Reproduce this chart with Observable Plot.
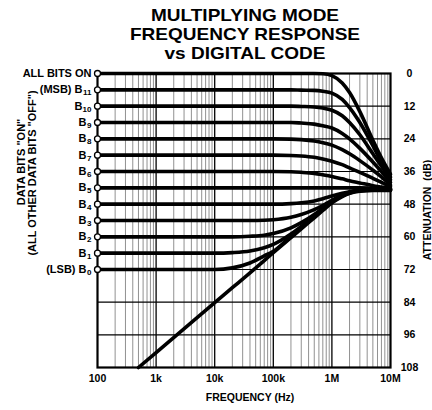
<!DOCTYPE html>
<html>
<head>
<meta charset="utf-8">
<script src="https://cdn.jsdelivr.net/npm/d3@7"></script>
<script src="https://cdn.jsdelivr.net/npm/@observablehq/plot@0.6"></script>
<style>
  body { margin: 0; background: #fff; }
  #chart { width: 432px; height: 410px; }
</style>
</head>
<body>
<div id="chart"></div>
<script>
// ---- data ----
const FREQ = [100, 1e3, 1e4, 2e4, 4e4, 7e4, 1e5, 2e5, 3e5, 5e5, 7e5, 1e6, 1.5e6, 2e6, 3e6, 5e6, 7e6, 1e7];

const SERIES = ["ALL", "B11", "B10", "B9", "B8", "B7", "B6", "B5", "B4", "B3", "B2", "B1", "B0"];
const LEVELS = [0, 6, 12, 18, 24, 30, 36, 42, 48, 54, 60, 66, 72];

const ALL_ON = [0, 0, 0, 0, 0, 0, 0, 0, 0, 0, 0.1, 0.8, 3.5, 7, 14, 24.5, 31, 37];
const B11 = [6, 6, 6, 6, 6, 6, 6, 6, 6.1, 6.2, 6.5, 7.2, 9.5, 12.5, 18, 26.5, 32.5, 38];
const B10 = [12, 12, 12, 12, 12, 12, 12, 12, 12.1, 12.3, 12.7, 13.5, 15.5, 18, 22.5, 29.5, 34, 39];
const B9  = [18, 18, 18, 18, 18, 18, 18, 18, 18.2, 18.6, 19.2, 20, 22, 24, 27.5, 32.5, 36, 40];
const B8  = [24, 24, 24, 24, 24, 24, 24, 24.1, 24.3, 24.8, 25.4, 26.3, 28, 29.5, 32, 35.5, 38, 41];
const B7  = [30, 30, 30, 30, 30, 30, 30, 30.1, 30.3, 30.8, 31.4, 32.2, 33.5, 34.7, 36.3, 38.5, 40, 41.5];
const B6  = [36, 36, 36, 36, 36, 36, 36, 36.1, 36.3, 36.7, 37.2, 37.8, 38.7, 39.4, 40.2, 41.2, 41.7, 42.2];
const B5  = [42, 42, 42, 42, 42, 42, 42, 42, 42, 42, 42, 42, 42, 42, 42, 42.1, 42.2, 42.4];
const B4  = [48, 48, 48, 48, 48, 48, 48, 47.8, 47.5, 46.8, 46, 45, 44, 43.4, 42.8, 42.5, 42.5, 42.5];
const B3  = [54, 54, 54, 54, 54, 53.9, 53.7, 52.8, 51.8, 50, 48.5, 46.6, 44.6, 43.6, 42.9, 42.6, 42.6, 42.6];
const B2  = [60, 60, 60, 60, 59.8, 59.4, 58.8, 56.7, 54.8, 51.8, 49.4, 47, 44.8, 43.7, 43, 42.7, 42.7, 42.7];
const B1  = [66, 66, 66, 65.8, 65.2, 64, 62.8, 59, 56.2, 52.4, 49.8, 47.2, 45, 43.8, 43, 42.8, 42.8, 42.8];
const B0  = [72, 72, 72, 71.4, 69.6, 67, 65.3, 59.8, 56.7, 52.7, 50, 47.3, 45, 43.9, 43.1, 42.9, 42.9, 42.9];

// feedthrough (all bits off) line
const FEED_FREQ = [500, 1e3, 1e4, 2e4, 4e4, 7e4, 1e5, 2e5, 3e5, 5e5, 7e5, 1e6, 1.5e6, 2e6, 3e6, 5e6, 7e6, 1e7];
const FEED_DB   = [108, 102.5, 84.2, 78.7, 73.2, 68.7, 65.8, 60.3, 57.1, 53.0, 50.3, 47.5, 45.2, 44, 43.2, 43, 43, 43];

// labels
const LABEL_MAIN = ["ALL BITS ON", "(MSB) B", "B", "B", "B", "B", "B", "B", "B", "B", "B", "B", "(LSB) B"];
const LABEL_SUB  = ["", "11", "10", "9", "8", "7", "6", "5", "4", "3", "2", "1", "0"];

const FREQ_TICKS  = [100, 1e3, 1e4, 1e5, 1e6, 1e7];
const FREQ_LABELS = ["100", "1k", "10k", "100k", "1M", "10M"];
const DB_TICKS = [0, 12, 24, 36, 48, 60, 72, 84, 96, 108];
const TITLE = ["MULTIPLYING MODE", "FREQUENCY RESPONSE", "vs DIGITAL CODE"];
const Y_LABEL_LEFT = ["DATA BITS \"ON\"", "(ALL OTHER DATA BITS \"OFF\")"];
const Y_LABEL_RIGHT = "ATTENUATION  (dB)";
const X_LABEL = "FREQUENCY (Hz)";

// ---- build ----
const VALUES = [ALL_ON, B11, B10, B9, B8, B7, B6, B5, B4, B3, B2, B1, B0];
const rows = [];
VALUES.forEach((arr, s) => arr.forEach((v, i) => rows.push({s: SERIES[s], f: FREQ[i], db: v})));
FEED_DB.forEach((v, i) => rows.push({s: "FEED", f: FEED_FREQ[i], db: v}));

const minor = [];
for (let k = 2; k <= 6; k++) for (let m = 2; m <= 9; m++) minor.push(m * Math.pow(10, k));
const decades = [1e3, 1e4, 1e5, 1e6];
const hgrid = [12, 24, 36, 48, 60, 72, 84, 96];

const idx = d3.range(SERIES.length);
const FONT = "Liberation Sans, Arial, Helvetica, sans-serif";

const chart = Plot.plot({
  width: 432,
  height: 410,
  marginLeft: 97,
  marginRight: 42,
  marginTop: 73,
  marginBottom: 43,
  style: {fontFamily: FONT, background: "#fff", color: "#000"},
  x: {type: "log", domain: [100, 1e7], axis: null},
  y: {domain: [0, 108], reverse: true, axis: null},
  marks: [
    Plot.ruleX(minor, {stroke: "#000", strokeWidth: 0.8, strokeOpacity: 0.55}),
    Plot.ruleX(decades, {stroke: "#000", strokeWidth: 1.3}),
    Plot.ruleY(hgrid, {stroke: "#000", strokeWidth: 1.2}),
    Plot.line(rows, {x: "f", y: "db", z: "s", curve: "monotone-x", stroke: "#000", strokeWidth: 3.6}),
    Plot.frame({stroke: "#000", strokeWidth: 2.2}),
    Plot.dot(idx, {x: () => 100, y: i => LEVELS[i], r: 3, fill: "#fff", stroke: "#000", strokeWidth: 1.3}),
    // left labels
    Plot.text(idx.filter(i => LABEL_SUB[i] === ""), {y: i => LEVELS[i], text: i => LABEL_MAIN[i], frameAnchor: "left", textAnchor: "end", dx: -6, fontSize: 11, fontWeight: "bold"}),
    Plot.text(idx.filter(i => LABEL_SUB[i].length === 2), {y: i => LEVELS[i], text: i => LABEL_MAIN[i], frameAnchor: "left", textAnchor: "end", dx: -15, fontSize: 11, fontWeight: "bold"}),
    Plot.text(idx.filter(i => LABEL_SUB[i].length === 1), {y: i => LEVELS[i], text: i => LABEL_MAIN[i], frameAnchor: "left", textAnchor: "end", dx: -11, fontSize: 11, fontWeight: "bold"}),
    Plot.text(idx.filter(i => LABEL_SUB[i] !== ""), {y: i => LEVELS[i], text: i => LABEL_SUB[i], frameAnchor: "left", textAnchor: "end", dx: -6, dy: 3, fontSize: 8, fontWeight: "bold"}),
    // right tick labels
    Plot.text(DB_TICKS, {y: d => d, text: d => String(d), frameAnchor: "right", dx: 19, textAnchor: "middle", fontSize: 10.5, fontWeight: "bold"}),
    // bottom tick labels
    Plot.text(FREQ_TICKS, {x: d => d, text: (d, i) => FREQ_LABELS[i], frameAnchor: "bottom", dy: 14, fontSize: 10.5, fontWeight: "bold"}),
    Plot.text([X_LABEL], {frameAnchor: "bottom", text: d => d, dx: 6, dy: 33, fontSize: 10.5, fontWeight: "bold"})
  ]
});

const svg = d3.select(chart);

// title: three lines, slightly widened bold sans
TITLE.forEach((t, i) => {
  svg.append("text")
    .attr("transform", `translate(245,${20.5 + i * 19}) scale(1.12,1)`)
    .attr("font-family", FONT).attr("font-size", 17).attr("font-weight", "bold")
    .attr("text-anchor", "middle").attr("fill", "#000")
    .text(t);
});

// rotated axis titles
const left = svg.append("text")
  .attr("transform", "translate(27,168) rotate(-90)")
  .attr("font-family", FONT).attr("font-size", 11).attr("font-weight", "bold")
  .attr("text-anchor", "middle").attr("fill", "#000");
left.append("tspan").attr("x", 6).attr("y", -2).text(Y_LABEL_LEFT[0]);
left.append("tspan").attr("x", -5).attr("y", 9).text(Y_LABEL_LEFT[1]);

svg.append("text")
  .attr("transform", "translate(431,210) rotate(-90)")
  .attr("font-family", FONT).attr("font-size", 10.5).attr("font-weight", "bold")
  .attr("text-anchor", "middle").attr("fill", "#000")
  .text(Y_LABEL_RIGHT);

document.getElementById("chart").appendChild(chart);
</script>
</body>
</html>
